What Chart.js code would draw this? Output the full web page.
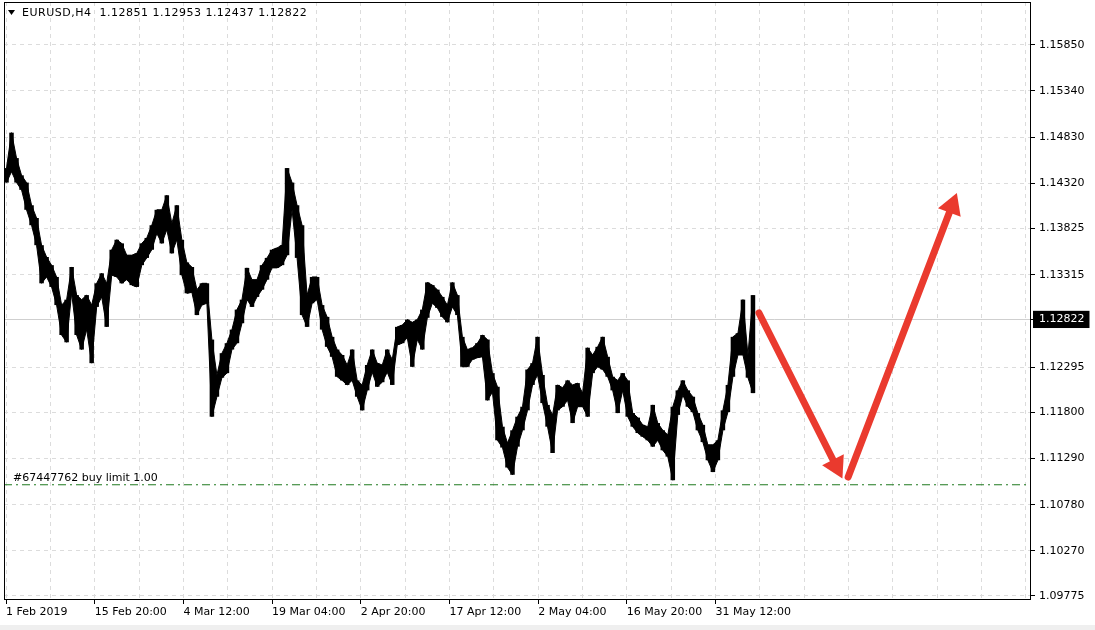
<!DOCTYPE html>
<html lang="pt-BR">
<head>
<meta charset="UTF-8">
<title>EURUSD,H4</title>
<script src="https://cdn.jsdelivr.net/npm/chart.js@4.4.1/dist/chart.umd.min.js"></script>
<style>
  html, body { margin: 0; padding: 0; background: #ffffff; }
  canvas { display: block; }
</style>
</head>
<body>
<canvas id="graficoPreco" width="1095" height="630"></canvas>
<script>
// Dados (cada posição = uma fatia de ~5 px de candles H4)
const simbolo = "EURUSD,H4";
const ultimoCandle = [1.12851, 1.12953, 1.12437, 1.12822]; // abertura, máxima, mínima, fechamento

const maximas = [
  1.1449, 1.1488, 1.1460, 1.1441, 1.1433, 1.1408, 1.1394, 1.1364, 1.1351, 1.1342,
  1.1329, 1.1298, 1.1304, 1.1340, 1.1309, 1.1304, 1.1309, 1.1298, 1.1322, 1.1333,
  1.1322, 1.1359, 1.1370, 1.1366, 1.1353, 1.1353, 1.1355, 1.1366, 1.1372, 1.1386,
  1.1403, 1.1403, 1.1419, 1.1388, 1.1408, 1.1370, 1.1345, 1.1340, 1.1315, 1.1322,
  1.1322, 1.1260, 1.1221, 1.1245, 1.1256, 1.1271, 1.1293, 1.1304, 1.1339, 1.1326,
  1.1326, 1.1342, 1.1350, 1.1359, 1.1361, 1.1364, 1.1449, 1.1433, 1.1408, 1.1386,
  1.1309, 1.1329, 1.1329, 1.1298, 1.1285, 1.1263, 1.1249, 1.1243, 1.1232, 1.1249,
  1.1215, 1.1210, 1.1232, 1.1249, 1.1234, 1.1232, 1.1249, 1.1238, 1.1274, 1.1276,
  1.1282, 1.1279, 1.1282, 1.1293, 1.1323, 1.1320, 1.1315, 1.1307, 1.1298, 1.1323,
  1.1309, 1.1263, 1.1249, 1.1251, 1.1256, 1.1265, 1.1260, 1.1223, 1.1208, 1.1164,
  1.1146, 1.1160, 1.1175, 1.1186, 1.1227, 1.1234, 1.1263, 1.1221, 1.1188, 1.1177,
  1.1210, 1.1207, 1.1215, 1.1210, 1.1212, 1.1201, 1.1251, 1.1243, 1.1252, 1.1263,
  1.1241, 1.1219, 1.1215, 1.1223, 1.1215, 1.1179, 1.1174, 1.1166, 1.1164, 1.1188,
  1.1168, 1.1160, 1.1155, 1.1186, 1.1204, 1.1215, 1.1204, 1.1197, 1.1179, 1.1166,
  1.1144, 1.1144, 1.1149, 1.1182, 1.1210, 1.1263, 1.1267, 1.1304, 1.1243, 1.1309
];

const minimas = [
  1.1433, 1.1445, 1.1433, 1.1425, 1.1403, 1.1386, 1.1364, 1.1322, 1.1329, 1.1318,
  1.1298, 1.1265, 1.1257, 1.1311, 1.1265, 1.1249, 1.1271, 1.1234, 1.1296, 1.1307,
  1.1274, 1.1331, 1.1329, 1.1322, 1.1326, 1.1320, 1.1318, 1.1342, 1.1350, 1.1359,
  1.1377, 1.1366, 1.1381, 1.1355, 1.1370, 1.1331, 1.1311, 1.1312, 1.1287, 1.1298,
  1.1300, 1.1175, 1.1197, 1.1218, 1.1223, 1.1249, 1.1256, 1.1278, 1.1304, 1.1296,
  1.1307, 1.1315, 1.1326, 1.1339, 1.1339, 1.1342, 1.1353, 1.1403, 1.1350, 1.1287,
  1.1274, 1.1300, 1.1304, 1.1271, 1.1252, 1.1241, 1.1219, 1.1215, 1.1210, 1.1215,
  1.1197, 1.1182, 1.1204, 1.1224, 1.1208, 1.1213, 1.1224, 1.1210, 1.1254, 1.1256,
  1.1262, 1.1230, 1.1260, 1.1249, 1.1284, 1.1300, 1.1295, 1.1285, 1.1279, 1.1296,
  1.1287, 1.1230, 1.1230, 1.1238, 1.1240, 1.1241, 1.1193, 1.1202, 1.1149, 1.1141,
  1.1119, 1.1111, 1.1142, 1.1160, 1.1182, 1.1210, 1.1221, 1.1190, 1.1164, 1.1135,
  1.1182, 1.1186, 1.1193, 1.1168, 1.1186, 1.1186, 1.1175, 1.1223, 1.1230, 1.1227,
  1.1219, 1.1204, 1.1179, 1.1204, 1.1175, 1.1164, 1.1157, 1.1153, 1.1149, 1.1142,
  1.1149, 1.1138, 1.1131, 1.1105, 1.1177, 1.1199, 1.1186, 1.1180, 1.1160, 1.1147,
  1.1127, 1.1114, 1.1127, 1.1160, 1.1180, 1.1219, 1.1243, 1.1243, 1.1218, 1.1201
];

const rotulosData = [
  "1 Feb 2019", "15 Feb 20:00", "4 Mar 12:00", "19 Mar 04:00", "2 Apr 20:00",
  "17 Apr 12:00", "2 May 04:00", "16 May 20:00", "31 May 12:00"
];

const rotulosPreco = [
  1.15850, 1.15340, 1.14830, 1.14320, 1.13825, 1.13315, 1.12822,
  1.12295, 1.11800, 1.11290, 1.10780, 1.10270, 1.09775
];

const textoOrdem = "#67447762 buy limit 1.00";
const precoOrdem = 1.1100;

// Setas desenhadas à mão no print (posição em fatias, preço)
const setaDescida = [{ x: 150.2, y: 1.12893 }, { x: 165.6, y: 1.11207 }];
const setaSubida = [{ x: 168.0, y: 1.11085 }, { x: 188.7, y: 1.14072 }];

const totalFatias = 205;   // fatias no eixo horizontal (inclui espaço vazio à direita)
const passoGrade = 8.852;  // distância entre linhas verticais da grade
const totalGrade = 24;

const fechamento = ultimoCandle[3];
const vermelho = "#ea3a2e";

Chart.defaults.font.family = "'DejaVu Sans', sans-serif";
Chart.defaults.font.size = 11;
Chart.defaults.color = "#000";

function criarSeta(pontos) {
  return {
    data: pontos,
    borderColor: vermelho,
    borderWidth: 7,
    borderCapStyle: "round",
    fill: false,
    pointStyle: "triangle",
    pointBackgroundColor: vermelho,
    pointBorderWidth: 0,
    pointRadius: (c) => (c.dataIndex === pontos.length - 1 ? 14 : 0),
    pointRotation: (c) => {
      const ex = c.chart.scales.x;
      const ey = c.chart.scales.y;
      const a = pontos[pontos.length - 2];
      const b = pontos[pontos.length - 1];
      const dx = ex.getPixelForValue(b.x) - ex.getPixelForValue(a.x);
      const dy = ey.getPixelForValue(b.y) - ey.getPixelForValue(a.y);
      return Math.atan2(dx, -dy) * 180 / Math.PI;
    },
    order: 0
  };
}

// Fundo, moldura, cabeçalho e rótulo da ordem pendente
const decoracao = {
  id: "decoracao",
  beforeDraw(chart) {
    const c = chart.ctx;
    c.save();
    c.fillStyle = "#ffffff";
    c.fillRect(0, 0, chart.width, chart.height);
    c.fillStyle = "#efefef";
    c.fillRect(0, chart.height - 5, chart.width, 5);
    c.restore();
  },
  afterDraw(chart) {
    const c = chart.ctx;
    const area = chart.chartArea;
    c.save();
    c.strokeStyle = "#000";
    c.lineWidth = 1;
    c.strokeRect(area.left + 0.5, area.top + 0.5, area.right - area.left - 1, area.bottom - area.top - 1);

    c.fillStyle = "#000";
    c.beginPath();
    c.moveTo(area.left + 4, 10);
    c.lineTo(area.left + 11, 10);
    c.lineTo(area.left + 7.5, 15);
    c.closePath();
    c.fill();

    c.font = "11px 'DejaVu Sans', sans-serif";
    c.textBaseline = "middle";
    c.letterSpacing = "0.5px";
    c.fillText(simbolo + "  " + ultimoCandle.map(v => v.toFixed(5)).join(" "), area.left + 18, 13);
    c.letterSpacing = "0px";

    const y = chart.scales.y.getPixelForValue(precoOrdem);
    c.textBaseline = "bottom";
    c.fillText(textoOrdem, area.left + 9, y - 1);
    c.restore();
  }
};

const semPadding = (escala) => {
  escala.paddingLeft = 0;
  escala.paddingRight = 0;
  escala.paddingTop = 0;
  escala.paddingBottom = 0;
};

document.addEventListener("DOMContentLoaded", () => {
  const ctx = document.getElementById("graficoPreco").getContext("2d");

  new Chart(ctx, {
    type: "line",
    data: {
      datasets: [
        {
          // faixa máxima-mínima de cada fatia
          type: "bar",
          label: simbolo,
          data: maximas.map((h, i) => ({ x: i, y: [minimas[i], h] })),
          backgroundColor: "#000",
          borderWidth: 0,
          barPercentage: 0.9,
          categoryPercentage: 1,
          order: 3
        },
        {
          label: "máxima",
          data: maximas.map((v, i) => ({ x: i, y: v })),
          borderColor: "#000",
          backgroundColor: "#000",
          borderWidth: 1,
          pointRadius: 0,
          fill: "+1",
          order: 4
        },
        {
          label: "mínima",
          data: minimas.map((v, i) => ({ x: i, y: v })),
          borderColor: "#000",
          borderWidth: 1,
          pointRadius: 0,
          fill: false,
          order: 4
        },
        {
          label: textoOrdem,
          data: [{ x: -0.5, y: precoOrdem }, { x: totalFatias - 0.5, y: precoOrdem }],
          borderColor: "#1f7a1f",
          borderWidth: 1,
          borderDash: [8, 4, 2, 4],
          pointRadius: 0,
          fill: false,
          order: 2
        },
        criarSeta(setaDescida),
        criarSeta(setaSubida)
      ]
    },
    options: {
      responsive: false,
      animation: false,
      events: [],
      layout: { autoPadding: false, padding: { left: 4, top: 2, right: 0, bottom: 0 } },
      plugins: {
        legend: { display: false },
        tooltip: { enabled: false }
      },
      scales: {
        x: {
          type: "linear",
          min: -0.5,
          max: totalFatias - 0.5,
          offset: false,
          afterBuildTicks: (escala) => {
            escala.ticks = Array.from({ length: totalGrade }, (_, k) => ({ value: -0.1 + k * passoGrade }));
          },
          afterFit: (escala) => { escala.height = 30; semPadding(escala); },
          grid: {
            offset: false,
            color: "#dcdcdc",
            tickLength: 4,
            tickColor: (c) => (c.index % 2 === 0 && c.index / 2 < rotulosData.length ? "#000" : "rgba(0,0,0,0)")
          },
          border: { display: false, dash: [4, 4] },
          ticks: {
            autoSkip: false,
            maxRotation: 0,
            minRotation: 0,
            align: "start",
            padding: 2,
            callback: (v, i) => (i % 2 === 0 && rotulosData[i / 2] ? rotulosData[i / 2] : "")
          }
        },
        y: {
          type: "linear",
          position: "right",
          min: 1.0973,
          max: 1.1632,
          beginAtZero: false,
          afterBuildTicks: (escala) => {
            escala.ticks = rotulosPreco.map(v => ({ value: v }));
          },
          afterFit: (escala) => { escala.width = 64; semPadding(escala); },
          grid: {
            color: (c) => (c.tick && c.tick.value === fechamento ? "#cfcfcf" : "#dcdcdc"),
            tickLength: 4,
            tickColor: "#000"
          },
          border: {
            display: false,
            dash: (c) => (c.tick && c.tick.value === fechamento ? [] : [4, 4])
          },
          ticks: {
            padding: 4,
            color: (c) => (c.tick && c.tick.value === fechamento ? "#fff" : "#000"),
            showLabelBackdrop: (c) => !!(c.tick && c.tick.value === fechamento),
            backdropColor: "#000",
            backdropPadding: { top: 2, bottom: 2, left: 6, right: 5 },
            callback: (v) => v.toFixed(5)
          }
        }
      }
    },
    plugins: [decoracao]
  });
});
</script>
</body>
</html>
